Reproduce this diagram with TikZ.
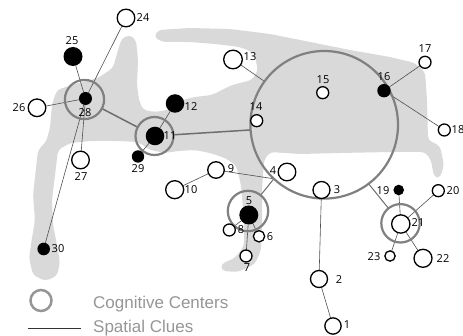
\documentclass[tikz,border=0pt]{standalone}
\usepackage{fontspec}
\setmainfont{Open Sans}
\newfontfamily\legendfont{Liberation Sans}
\pgfdeclarelayer{map}
\pgfdeclarelayer{clues}
\pgfsetlayers{map,clues,main}
\definecolor{mapgrey}{RGB}{217,217,217}
\definecolor{ringgrey}{RGB}{128,128,128}
\definecolor{legendgrey}{RGB}{150,150,150}
\definecolor{cluegrey}{RGB}{80,80,80}
\definecolor{linkgrey}{RGB}{110,110,110}
\begin{document}
\begin{tikzpicture}[x=1pt,y=-1pt,
  open/.style={circle, draw=black, line width=1.3pt, fill=white, inner sep=0pt, outer sep=0pt, minimum size=#1},
  solid/.style={circle, fill=black, inner sep=0pt, outer sep=0pt, minimum size=#1},
  ring/.style={circle, draw=ringgrey, line width=2.2pt, inner sep=0pt, outer sep=0pt, minimum size=#1},
  num/.style={font=\fontsize{11}{11}\selectfont, inner sep=0pt},
  clue/.style={draw=cluegrey, line width=0.6pt},
  link/.style={draw=linkgrey, line width=1.5pt},
  legendtext/.style={font=\legendfont\fontsize{17}{17}\selectfont, text=legendgrey, inner sep=0pt, anchor=base west}]
\useasboundingbox (0,0) rectangle (463,336);

% land / water outline
\begin{pgfonlayer}{map}
\fill[mapgrey, rounded corners=4pt]
  (45,281) -- (33,275) -- (29,258) -- (32,238) -- (35,220) -- (33,195) -- (36,168)
  -- (38,150) -- (46,142) -- (50,128) -- (52,104) -- (57,90) -- (75,84) -- (98,78)
  -- (113,68) -- (118,50) -- (122,38) -- (130,35) -- (136,40) -- (138,60) -- (137,85)
  -- (139,100) -- (143,110) -- (155,112) -- (168,110) -- (182,100) -- (195,97)
  -- (212,95) -- (232,85) -- (252,80) -- (258,70) -- (254,53) -- (240,47) -- (215,44)
  -- (190,42) -- (162,42) -- (154,37) -- (158,30) -- (190,28) -- (230,29) -- (270,34)
  -- (310,42) -- (350,50) -- (390,57) -- (415,63) -- (425,72) -- (427,100) -- (428,140)
  -- (440,146) -- (444,165) -- (440,178) -- (434,177) -- (431,160) -- (425,152)
  -- (390,152) -- (340,153) -- (300,154) -- (270,152) -- (264,160) -- (262,190)
  -- (262,230) -- (261,250) -- (255,264) -- (238,272) -- (222,271) -- (221,264)
  -- (235,258) -- (244,246) -- (244,220) -- (241,185) -- (236,165) -- (225,158)
  -- (210,153) -- (195,150) -- (178,151) -- (165,153) -- (150,150) -- (138,142)
  -- (118,141) -- (90,141) -- (70,143) -- (58,150) -- (55,175) -- (52,200) -- (53,225)
  -- (57,245) -- (60,262) -- (57,276) -- cycle;
\end{pgfonlayer}

% cognitive centres
\node[ring=147.6] (R) at (324.2,124.8) {};
\node[ring=39.2] (C28) at (84.5,99.5) {};
\node[ring=38] (C11) at (154.5,136) {};
\node[ring=40.4] (C5) at (248,211) {};
\node[ring=38.4] (C21) at (400.5,223.3) {};

% places
\node[open=17.6] (n24) at (126,18) {};
\node[solid=19] (n25) at (73,56.5) {};
\node[solid=13] (n28) at (85.5,98.5) {};
\node[open=17.6] (n26) at (37,107.8) {};
\node[open=17.6] (n27) at (80.5,160) {};
\node[solid=12.6] (n30) at (43.7,249) {};
\node[solid=18.5] (n12) at (175,103.5) {};
\node[solid=18.6] (n11) at (155,136) {};
\node[solid=12.4] (n29) at (138,156.5) {};
\node[open=18.6] (n13) at (233,59.5) {};
\node[open=12] (n14) at (256.7,120.7) {};
\node[open=12] (n15) at (322.7,92.7) {};
\node[solid=13.4] (n16) at (384,90.7) {};
\node[open=12] (n17) at (425,62.3) {};
\node[open=12] (n18) at (444.3,130) {};
\node[open=16.5] (n9) at (216,170) {};
\node[open=18] (n10) at (174.7,189.7) {};
\node[open=17.6] (n4) at (287,172) {};
\node[solid=19] (n5) at (248.8,215) {};
\node[open=12] (n8) at (229.3,230) {};
\node[open=11.3] (n6) at (259,236.3) {};
\node[open=12] (n7) at (246,256) {};
\node[open=17] (n3) at (321.5,190) {};
\node[open=17] (n2) at (319,279) {};
\node[open=16.3] (n1) at (333,326) {};
\node[solid=10.6] (n19) at (398.7,190) {};
\node[open=12] (n20) at (438.3,190.7) {};
\node[open=18.3] (n21) at (400.8,224) {};
\node[open=10.3] (n23) at (390,256) {};
\node[open=18] (n22) at (423,258.3) {};

% numbers
\node[num] (t1) at (347,325) {1};
\node[num] (t2) at (339,280) {2};
\node[num] (t3) at (337,190) {3};
\node[num] (t4) at (273,171) {4};
\node[num] (t5) at (249,201) {5};
\node[num] (t6) at (270,237) {6};
\node[num] (t7) at (247,268) {7};
\node[num] (t8) at (241,230) {8};
\node[num] (t9) at (231,169) {9};
\node[num] (t10) at (191,190) {10};
\node[num] (t11) at (170,136) {11};
\node[num] (t12) at (191,107) {12};
\node[num] (t13) at (250,57) {13};
\node[num] (t14) at (256,107) {14};
\node[num] (t15) at (323,80) {15};
\node[num] (t16) at (384,77) {16};
\node[num] (t17) at (425,49) {17};
\node[num] (t18) at (458,130) {18};
\node[num] (t19) at (383,191) {19};
\node[num] (t20) at (453,191) {20};
\node[num] (t21) at (418,223) {21};
\node[num] (t22) at (443,259) {22};
\node[num] (t23) at (374,257) {23};
\node[num] (t24) at (143,18) {24};
\node[num] (t25) at (72,41) {25};
\node[num] (t26) at (19,108) {26};
\node[num] (t27) at (81,177) {27};
\node[num] (t28) at (85,113) {28};
\node[num] (t29) at (138,169) {29};
\node[num] (t30) at (58,249) {30};

% spatial clues
\begin{pgfonlayer}{clues}
\path[link] (C28) -- (C11);
\path[link] (C11) -- (R.184);
\path[clue] (n24) -- (n28);
\path[clue] (n25) -- (n28);
\path[clue] (n26) -- (n28);
\path[clue] (n27) -- (n28);
\path[clue] (n30) -- (n28);
\path[clue] (n12) -- (n11);
\path[clue] (n11) -- (n29);
\path[clue] (n13) -- (R.144);
\path[clue] (n16) -- (n17);
\path[clue] (n16) -- (n18);
\path[clue] (n9) -- (n10);
\path[clue] (n9) -- (R.227);
\path[clue, line width=1pt, draw=linkgrey] (C5) -- (R.227);
\path[clue] (n5) -- (n8);
\path[clue] (n5) -- (n6);
\path[clue] (n5) -- (n7);
\path[clue] (n3) -- (n2);
\path[clue] (n2) -- (n1);
\path[clue, line width=1pt, draw=linkgrey] (R.307) -- (C21);
\path[clue] (n19) -- (n21);
\path[clue] (n20) -- (n21);
\path[clue] (n21) -- (n23);
\path[clue] (n21) -- (n22);
\end{pgfonlayer}

% legend
\node[ring=21, draw=legendgrey, line width=2.5pt] (LC) at (41,300.5) {};
\node[legendtext] (LT1) at (93,309) {Cognitive Centers};
\coordinate (LA) at (28,328);
\coordinate (LB) at (81,328);
\draw[line width=0.8pt, draw=black!80] (LA) -- (LB);
\node[legendtext] (LT2) at (93,333) {Spatial Clues};
\end{tikzpicture}
\end{document}
